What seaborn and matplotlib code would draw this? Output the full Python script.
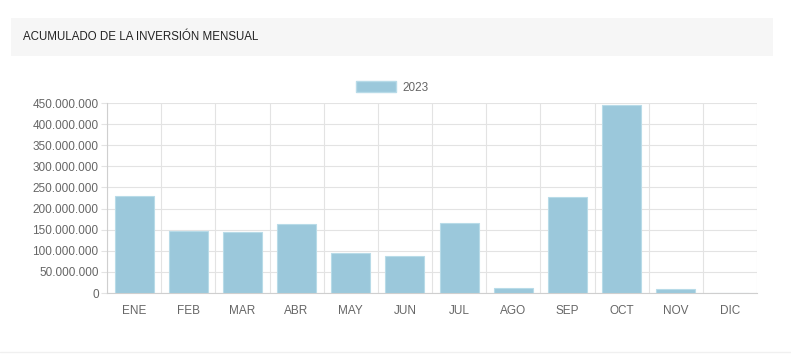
import matplotlib
matplotlib.use("Agg")
import matplotlib.pyplot as plt
import matplotlib.patches as mpatches
import matplotlib.ticker as mticker
import seaborn as sns
import pandas as pd
import numpy as np

# Data
meses = ['ENE', 'FEB', 'MAR', 'ABR', 'MAY', 'JUN', 'JUL', 'AGO', 'SEP', 'OCT', 'NOV', 'DIC']
inversion_2023 = [229e6, 146e6, 145e6, 163e6, 94e6, 88e6, 165e6, 12e6, 228e6, 446e6, 9.5e6, 0]
y_ticks = [0, 50e6, 100e6, 150e6, 200e6, 250e6, 300e6, 350e6, 400e6, 450e6]

bar_color = '#9bc8db'
grid_color = '#e3e3e3'
text_color = '#666666'

sns.set_theme(style='white')
plt.rcParams['font.family'] = ['Liberation Sans', 'DejaVu Sans']

df = pd.DataFrame({'mes': meses, 'valor': inversion_2023})

W, H = 791, 355
fig = plt.figure(figsize=(W / 100, H / 100), dpi=100)
fig.patch.set_facecolor('white')

# header card
fig.patches.append(mpatches.Rectangle((11 / W, 1 - 56 / H), (773 - 11) / W, 38 / H,
                                      transform=fig.transFigure, facecolor='#f6f6f6',
                                      edgecolor='none', zorder=0))
fig.text(23 / W, 1 - 37 / H, 'ACUMULADO DE LA INVERSIÓN MENSUAL', fontsize=8.3,
         color='#222222', va='center', ha='left')

ax = fig.add_axes([107 / W, 1 - 293 / H, (757 - 107) / W, (293 - 103) / H])
sns.barplot(data=df, x='mes', y='valor', color=bar_color, width=0.72,
            saturation=1, ax=ax, edgecolor='#b8dbe8', linewidth=0.8, zorder=3)

ax.set_xlim(-0.5, len(meses) - 0.5)
ax.set_ylim(0, 450e6)
ax.set_yticks(y_ticks)
ax.yaxis.set_major_formatter(mticker.FuncFormatter(lambda v, p: f'{int(v):,}'.replace(',', '.')))
ax.set_xlabel('')
ax.set_ylabel('')

# grid lines between categories, like Chart.js offset grid
ax.set_xticks(np.arange(-0.5, len(meses) + 0.5, 1), minor=True)
ax.grid(True, which='minor', axis='x', color=grid_color, linewidth=0.8, zorder=0)
ax.grid(True, which='major', axis='y', color=grid_color, linewidth=0.8, zorder=0)
ax.set_axisbelow(True)

ax.tick_params(axis='x', which='major', length=0, pad=9, labelsize=8.5, labelcolor=text_color)
ax.tick_params(axis='x', which='minor', length=5.5, color=grid_color, width=0.8, direction='out')
ax.tick_params(axis='y', which='major', length=4.5, color=grid_color, width=0.8, pad=1.5,
               labelsize=8.5, labelcolor=text_color, left=True)

for side in ['top', 'right']:
    ax.spines[side].set_visible(False)
for side in ['left', 'bottom']:
    ax.spines[side].set_color('#cfcfcf')
    ax.spines[side].set_linewidth(0.8)

# legend
handle = mpatches.Patch(facecolor=bar_color, edgecolor='#b8dbe8', label='2023')
fig.legend(handles=[handle], loc='center', bbox_to_anchor=(392 / W, 1 - 87.5 / H),
           frameon=False, fontsize=8.5, labelcolor=text_color, handlelength=3.4,
           handleheight=1.0, handletextpad=0.5)

# faint card bottom border
fig.add_artist(plt.Line2D([0, 1], [1 - 352 / H] * 2, transform=fig.transFigure,
                          color='#f0f0f0', linewidth=1))

fig.savefig('out.png', dpi=100)
